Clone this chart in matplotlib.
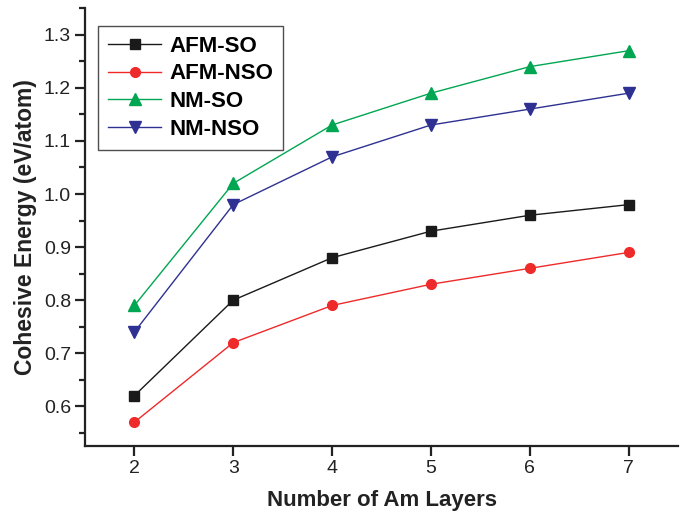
import matplotlib
matplotlib.use("Agg")
import matplotlib.pyplot as plt
from matplotlib.ticker import MultipleLocator, FormatStrFormatter

plt.rcParams['font.family'] = ['Liberation Sans', 'DejaVu Sans']

layers = [2, 3, 4, 5, 6, 7]
afm_so = [0.62, 0.80, 0.88, 0.93, 0.96, 0.98]
afm_nso = [0.57, 0.72, 0.79, 0.83, 0.86, 0.89]
nm_so = [0.79, 1.02, 1.13, 1.19, 1.24, 1.27]
nm_nso = [0.74, 0.98, 1.07, 1.13, 1.16, 1.19]

fig = plt.figure(figsize=(6.85, 5.14), dpi=100)
ax = fig.add_axes([0.124, 0.132, 0.866, 0.852])

ax.plot(layers, afm_so, color='#1a1a1a', lw=1, marker='s', ms=7, label='AFM-SO')
ax.plot(layers, afm_nso, color='#ee2a2a', lw=1, marker='o', ms=7, label='AFM-NSO')
ax.plot(layers, nm_so, color='#00a651', lw=1, marker='^', ms=8.5, label='NM-SO')
ax.plot(layers, nm_nso, color='#2e3192', lw=1, marker='v', ms=8.5, label='NM-NSO')

ax.set_xlim(1.5, 7.5)
ax.set_ylim(0.525, 1.35)
ax.xaxis.set_major_locator(MultipleLocator(1))
ax.yaxis.set_major_locator(MultipleLocator(0.1))
ax.yaxis.set_minor_locator(MultipleLocator(0.05))
ax.yaxis.set_major_formatter(FormatStrFormatter('%.1f'))

for s in ['top', 'right']:
    ax.spines[s].set_visible(False)
for s in ['left', 'bottom']:
    ax.spines[s].set_linewidth(1.6)
    ax.spines[s].set_color('#222222')

ax.tick_params(axis='both', which='major', direction='out', length=7, width=1.6,
               labelsize=14, colors='#222222', pad=3)
ax.tick_params(axis='y', which='minor', direction='out', length=4, width=1.6, colors='#222222')

ax.set_xlabel('Number of Am Layers', fontsize=16, fontweight='bold', labelpad=9, color='#222222')
ax.set_ylabel('Cohesive Energy (eV/atom)', fontsize=16.5, fontweight='bold', labelpad=5, color='#222222')

leg = ax.legend(loc='upper left', bbox_to_anchor=(0.022, 0.96), frameon=True, fancybox=False,
                edgecolor='#222222', prop={'weight': 'bold', 'size': 16}, handlelength=2.4,
                borderpad=0.45, labelspacing=0.3, handletextpad=0.35, borderaxespad=0)
leg.get_frame().set_linewidth(1)

fig.savefig('out.png', dpi=100)
